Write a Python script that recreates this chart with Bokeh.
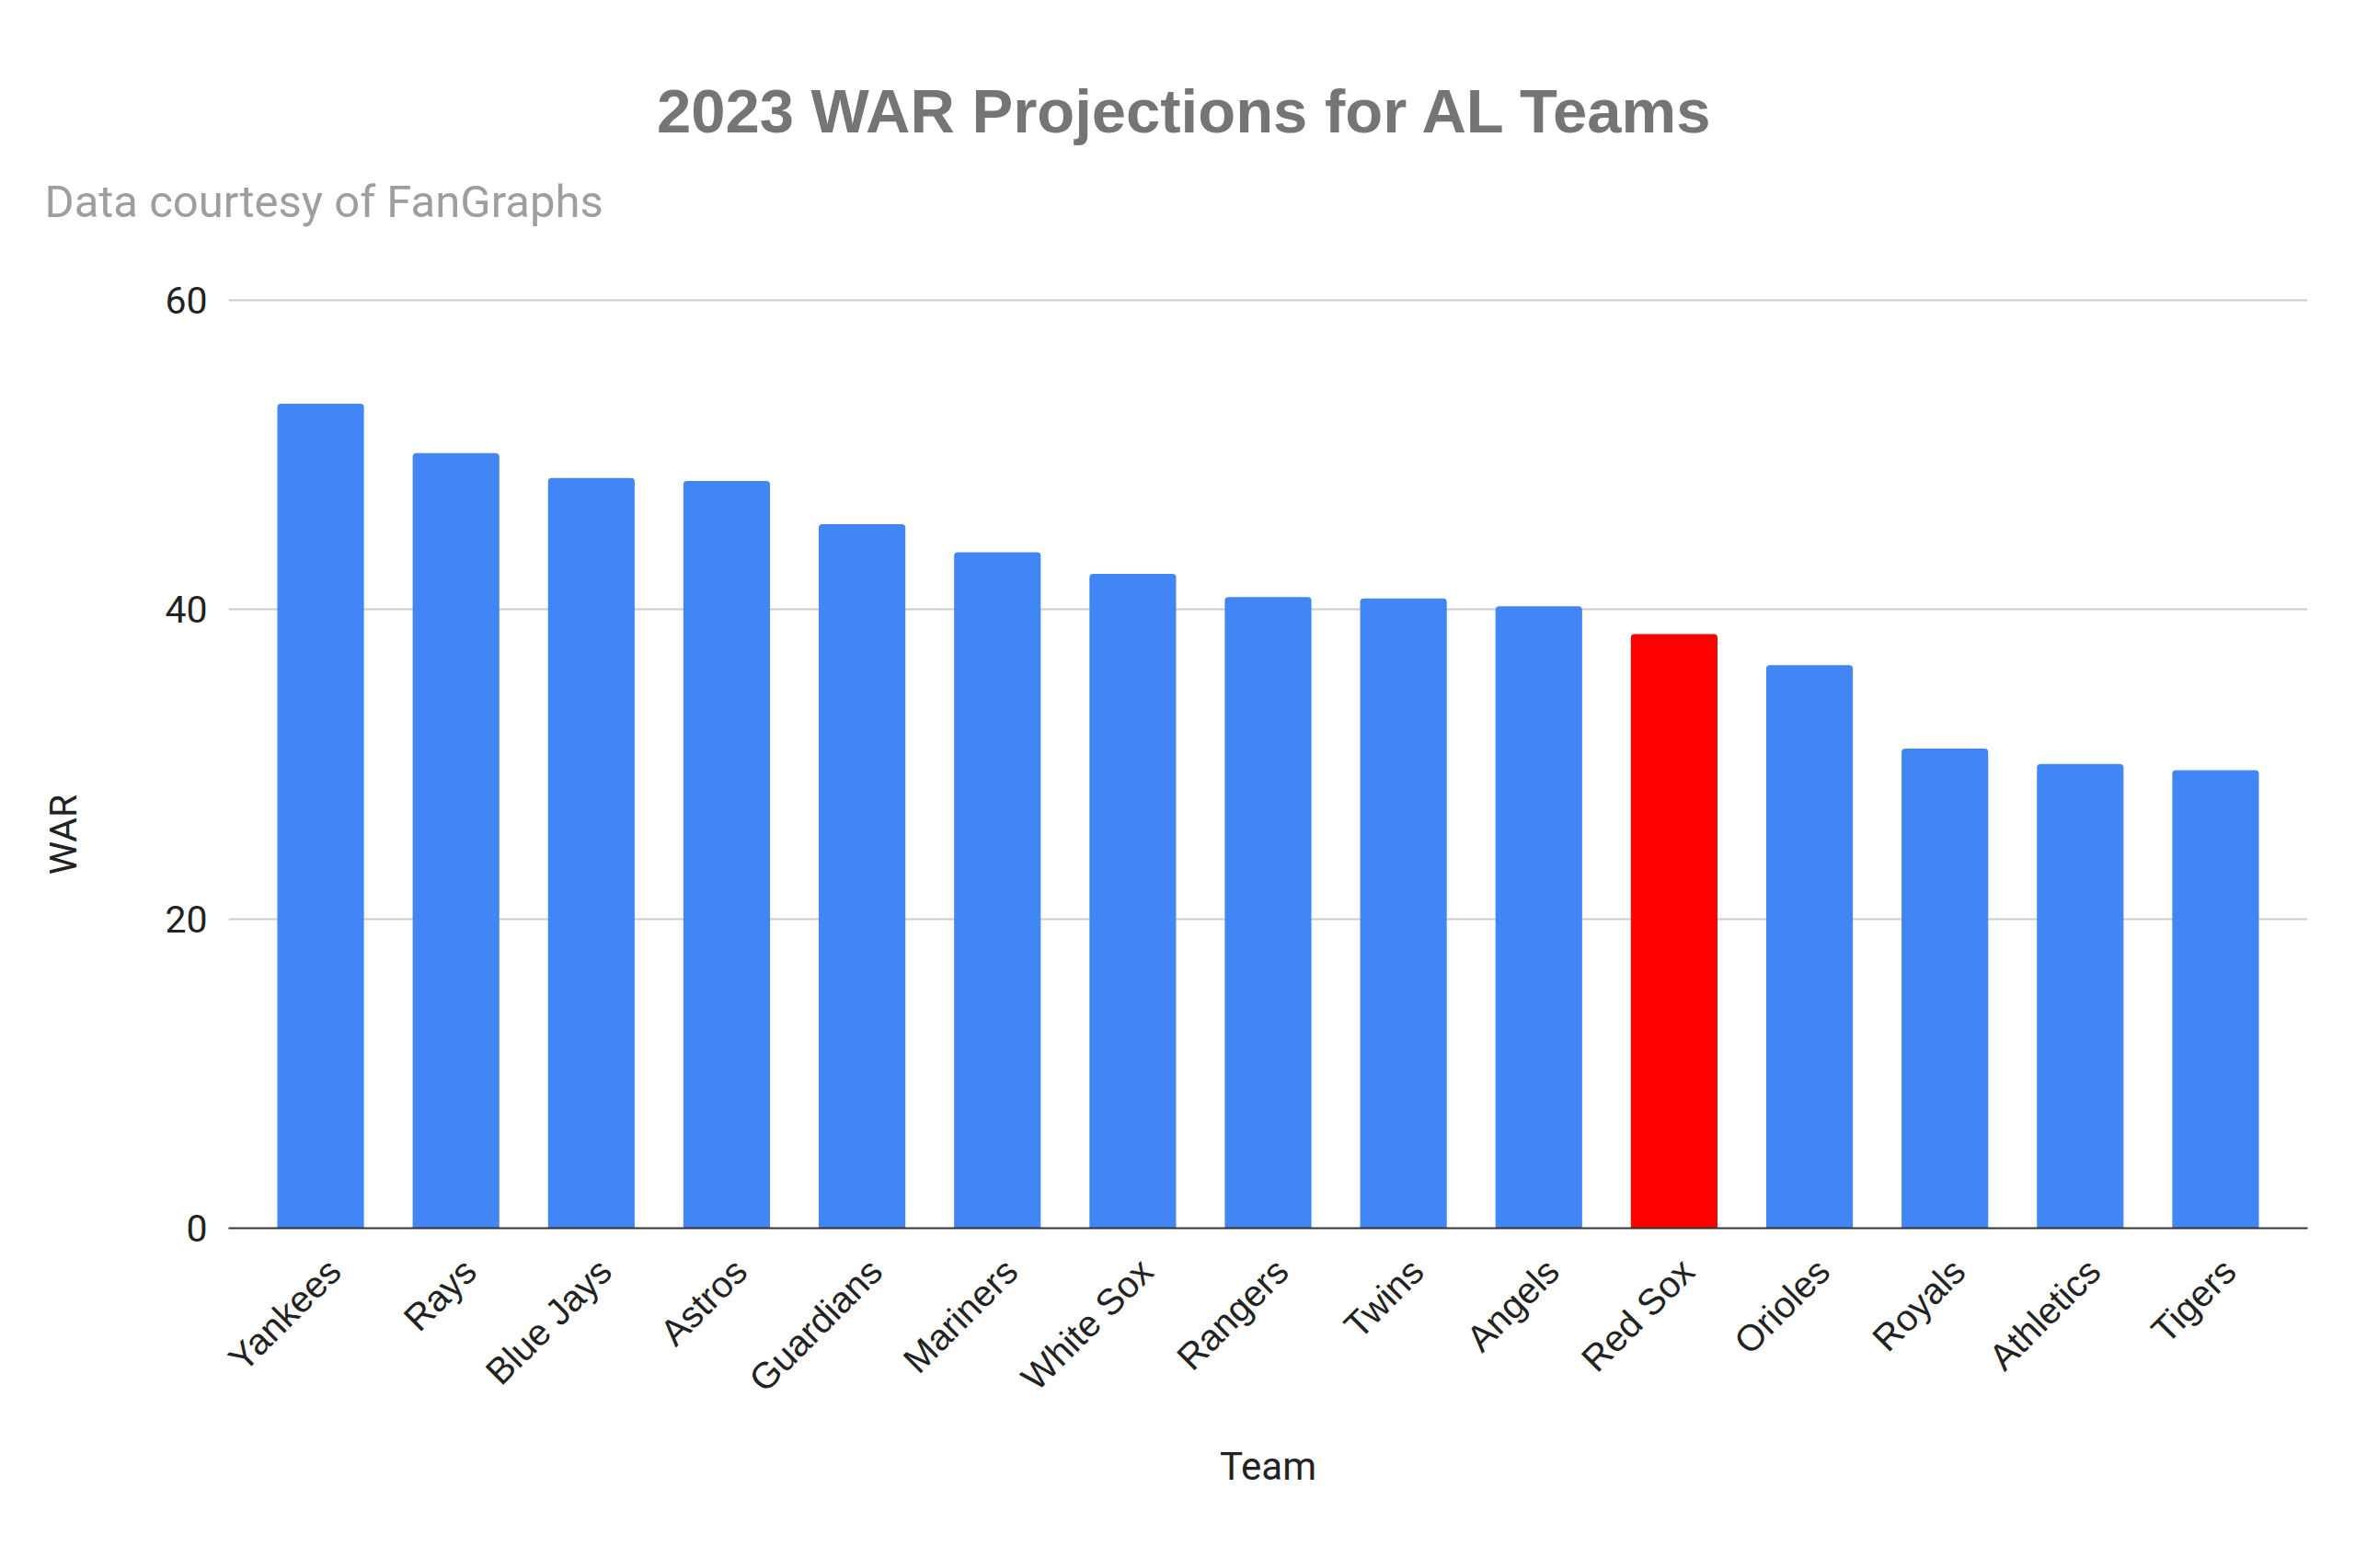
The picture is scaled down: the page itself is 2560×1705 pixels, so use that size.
import math
from bokeh.plotting import figure
from bokeh.models import Range1d, FixedTicker, Label, LinearAxis, ColumnDataSource
from bokeh.embed import file_html
from bokeh.resources import INLINE

# ---- data ----
teams = ["Yankees", "Rays", "Blue Jays", "Astros", "Guardians", "Mariners",
         "White Sox", "Rangers", "Twins", "Angels", "Red Sox", "Orioles",
         "Royals", "Athletics", "Tigers"]
war = [53.3, 50.1, 48.5, 48.3, 45.5, 43.7, 42.3, 40.8, 40.7, 40.2,
       38.4, 36.4, 31.0, 30.0, 29.6]
y_ticks = [0, 20, 40, 60]
highlight_team = "Red Sox"

title_text = "2023 WAR Projections for AL Teams"
subtitle_text = "Data courtesy of FanGraphs"
x_label = "Team"
y_label = "WAR"

BLUE = "#4285F4"
RED = "#FF0000"
colors = [RED if t == highlight_team else BLUE for t in teams]

W, H = 2544, 1689
FL, FR, FT, FB = 248, 2508, 324, 1335   # frame edges (px)
PAD = 0.18                              # category padding at each end
SUB_H = 29                              # effective height of subtitle panel

n = len(teams)
pos = list(range(n))
src = ColumnDataSource(dict(pos=pos, team=teams, war=war, color=colors))

p = figure(width=W, height=H, output_backend="svg", toolbar_location=None,
           title_location=None,
           x_range=Range1d(-0.5 - PAD, n - 0.5 + PAD),
           y_range=Range1d(0, 60.1),
           min_border_left=FL, min_border_right=W - FR,
           min_border_top=FT, min_border_bottom=H - FB)
p.outline_line_color = None
p.background_fill_color = "white"
p.border_fill_color = "white"

p.vbar(x="pos", top="war", width=0.64, fill_color="color", line_color=None,
       border_radius=(4, 4, 0, 0), source=src)

# y axis with tick labels
p.yaxis.ticker = FixedTicker(ticks=y_ticks)
p.yaxis.axis_line_color = None
p.yaxis.major_tick_line_color = None
p.yaxis.minor_tick_line_color = None
p.yaxis.major_tick_out = 0
p.yaxis.major_label_standoff = 23
p.yaxis.major_label_text_font = "Roboto"
p.yaxis.major_label_text_font_size = "41px"
p.yaxis.major_label_text_color = "#222222"
p.ygrid.ticker = FixedTicker(ticks=y_ticks)
p.ygrid.grid_line_color = "#cccccc"
p.ygrid.grid_line_width = 2

# subtitle and title in the panel above the plot area
p.add_layout(Label(x=48 - FL, y=FT - 235 + 16, x_units="screen", y_units="screen",
                   text=subtitle_text, text_align="left",
                   text_baseline="alphabetic", text_font="Roboto",
                   text_font_size="49px", text_color="#9e9e9e"), "above")
p.add_layout(Label(x=1288 - FL, y=FT - SUB_H - 148, x_units="screen", y_units="screen",
                   text=title_text, text_align="center",
                   text_baseline="alphabetic", text_font="Liberation Sans",
                   text_font_style="bold", text_font_size="67px",
                   text_color="#757575"), "above")

# "WAR" title placed in the left side panel
p.add_layout(Label(x=-60, y=FB - 907, x_units="screen", y_units="screen",
                   text=y_label, angle=math.pi / 2, text_align="center",
                   text_baseline="middle", text_font="Roboto",
                   text_font_size="41px", text_color="#222222"), "left")

# x axis: default one hidden, labelled axis on a slightly shifted range
p.xgrid.grid_line_color = None
p.xaxis.visible = False
shift = 0.1
p.extra_x_ranges = {"lab": Range1d(-0.5 - PAD - shift, n - 0.5 + PAD - shift)}
x_axis = LinearAxis(x_range_name="lab", ticker=FixedTicker(ticks=pos),
                    major_label_overrides={i: t for i, t in zip(pos, teams)},
                    axis_line_color="#333333", axis_line_width=2,
                    major_tick_line_color=None, minor_tick_line_color=None,
                    major_tick_out=0, major_label_orientation=math.pi / 4,
                    major_label_standoff=40,
                    major_label_text_font="Liberation Sans",
                    major_label_text_font_size="40px",
                    major_label_text_color="#222222",
                    axis_label=x_label, axis_label_standoff=30,
                    axis_label_text_font="Roboto",
                    axis_label_text_font_style="normal",
                    axis_label_text_font_size="42px",
                    axis_label_text_color="#222222")
p.add_layout(x_axis, "below")

open("out.html", "w").write(file_html(p, INLINE))
